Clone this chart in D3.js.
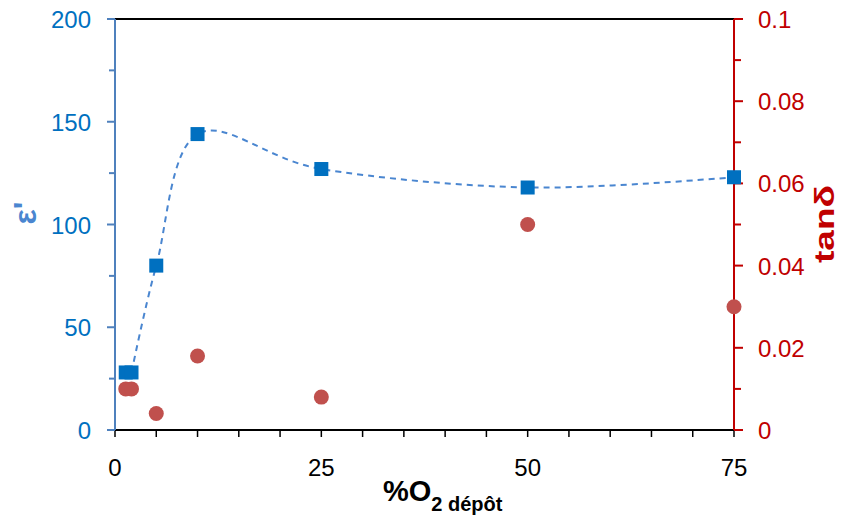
<!DOCTYPE html>
<html><head><meta charset="utf-8">
<script src="https://cdn.jsdelivr.net/npm/d3@7"></script>
<style>body{margin:0;background:#fff}svg{display:block;font-family:"Liberation Sans",Arial,sans-serif}</style>
</head><body><svg id="c" width="841" height="517"></svg>
<script>
const oxygen = [1.3, 2, 5, 10, 25, 50, 75];
const epsilon = [28, 28, 80, 144, 127, 118, 123];
const tanDelta = [0.010, 0.010, 0.004, 0.018, 0.008, 0.050, 0.030];
const xTicks = [0, 25, 50, 75];
const yLeftTicks = [0, 50, 100, 150, 200];
const yRightTicks = [0, 0.02, 0.04, 0.06, 0.08, 0.1];

const svg = d3.select("#c");
const L = 115, R = 734, T = 19, B = 430;
const x = d3.scaleLinear().domain([0, 75]).range([L, R]);
const yL = d3.scaleLinear().domain([0, 200]).range([B, T]);
const yR = d3.scaleLinear().domain([0, 0.1]).range([B, T]);

// top border
svg.append("line").attr("x1", L).attr("x2", R).attr("y1", T).attr("y2", T).attr("stroke", "#000").attr("stroke-width", 2);

// bottom axis
const gx = svg.append("g").attr("transform", `translate(0,${B})`);
gx.append("line").attr("x1", L).attr("x2", R).attr("stroke", "#000").attr("stroke-width", 2);
gx.selectAll(".mt").data(d3.range(0, 76, 5)).join("line")
  .attr("x1", d => x(d)).attr("x2", d => x(d)).attr("y1", 0).attr("y2", 7)
  .attr("stroke", "#000").attr("stroke-width", 1.5);
gx.selectAll("text").data(xTicks).join("text")
  .attr("x", d => x(d)).attr("y", 46).attr("text-anchor", "middle")
  .attr("font-size", 24).attr("fill", "#000").text(d => d);

// left axis
const blueAxis = "#4f81bd", blueText = "#0070c0";
const gl = svg.append("g");
gl.append("line").attr("x1", L).attr("x2", L).attr("y1", T).attr("y2", B).attr("stroke", blueAxis).attr("stroke-width", 2);
gl.selectAll(".t").data(d3.range(0, 201, 25)).join("line")
  .attr("x1", d => d % 50 === 0 ? L - 8 : L - 6).attr("x2", L)
  .attr("y1", d => yL(d)).attr("y2", d => yL(d))
  .attr("stroke", blueAxis).attr("stroke-width", 2);
gl.selectAll("text").data(yLeftTicks).join("text")
  .attr("x", 91).attr("y", d => yL(d) + 9).attr("text-anchor", "end")
  .attr("font-size", 24).attr("fill", blueText).text(d => d);
svg.append("text").attr("transform", "translate(36,213) rotate(-90)")
  .attr("text-anchor", "middle").attr("font-size", 32).attr("font-weight", "bold")
  .attr("fill", "#4a86d0").text("ε'");

// right axis
const red = "#c00000";
const gr = svg.append("g");
gr.append("line").attr("x1", R).attr("x2", R).attr("y1", T).attr("y2", B).attr("stroke", red).attr("stroke-width", 2);
gr.selectAll(".t").data(d3.range(0, 11, 1)).join("line")
  .attr("x1", R).attr("x2", d => d % 2 === 0 ? R + 9 : R + 7)
  .attr("y1", d => yR(d / 100)).attr("y2", d => yR(d / 100))
  .attr("stroke", red).attr("stroke-width", 2);
gr.selectAll("text").data(yRightTicks).join("text")
  .attr("x", 758).attr("y", d => yR(d) + 9).attr("text-anchor", "start")
  .attr("font-size", 24).attr("fill", red).text(d => d);
svg.append("text").attr("transform", "translate(834,224) rotate(-90)")
  .attr("text-anchor", "middle").attr("font-size", 28).attr("font-weight", "bold")
  .attr("textLength", 78).attr("lengthAdjust", "spacingAndGlyphs")
  .attr("fill", red).text("tanδ");

// x title
const xt = svg.append("text").attr("x", 383).attr("y", 501).attr("text-anchor", "start")
  .attr("font-weight", "bold").attr("fill", "#000");
xt.append("tspan").attr("font-size", 29).text("%O");
xt.append("tspan").attr("font-size", 20).attr("dy", 10).text("2 dépôt");

// smoothed dashed line
const pts = oxygen.map((o, i) => [o, epsilon[i]]).filter((d, i) => i > 0);
const line = d3.line().x(d => x(d[0])).y(d => yL(d[1])).curve(d3.curveCardinal.tension(0));
svg.append("path").attr("d", line(pts)).attr("fill", "none")
  .attr("stroke", "#4a86d0").attr("stroke-width", 2).attr("stroke-dasharray", "6,5");

// circles
svg.selectAll(".c").data(oxygen).join("circle")
  .attr("cx", d => x(d)).attr("cy", (d, i) => yR(tanDelta[i])).attr("r", 7.5)
  .attr("fill", "#c0504d");
// squares
const s = 14;
svg.selectAll(".s").data(oxygen).join("rect")
  .attr("x", d => x(d) - s / 2).attr("y", (d, i) => yL(epsilon[i]) - s / 2)
  .attr("width", s).attr("height", s).attr("fill", "#0070c0");
</script></body></html>
